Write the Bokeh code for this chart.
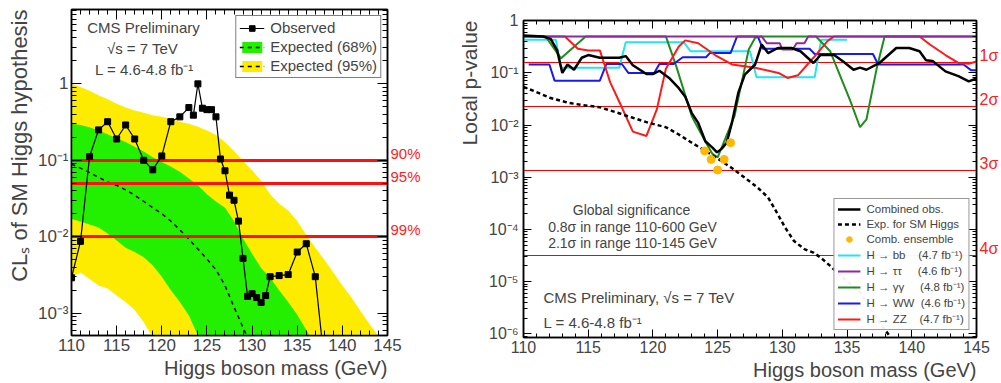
from bokeh.plotting import figure
from bokeh.layouts import row, column
from bokeh.models import (Range1d, FixedTicker, LinearAxis, LogAxis, Label, Legend, Title, Spacer,
                          LegendItem, Whisker, TeeHead, ColumnDataSource, CustomJSTickFormatter)
from bokeh.embed import file_html
from bokeh.resources import INLINE

FONT = "Liberation Sans"

# ---------------- Left panel data (CLs) ----------------
mass = list(range(110, 146))
exp95_hi = [1.0, 0.91, 0.81, 0.71, 0.63, 0.55, 0.49, 0.45, 0.42, 0.39, 0.37, 0.35, 0.32, 0.30,
            0.275, 0.245, 0.214, 0.174, 0.132, 0.098, 0.074, 0.054, 0.036, 0.027, 0.022, 0.016,
            0.0105, 0.0072, 0.0050, 0.0034, 0.0023, 0.0016, 0.00107, 0.00072, 0.0005, 0.00035]
exp68_hi = [0.30, 0.29, 0.27, 0.245, 0.22, 0.195, 0.174, 0.15, 0.13, 0.11, 0.095, 0.083, 0.071,
            0.058, 0.047, 0.036, 0.029, 0.024, 0.016, 0.0095, 0.006, 0.0039, 0.0029, 0.002,
            0.0014, 0.00095, 0.0006, 0.00038, 0.00025, 0.00016, 0.0001, 0.0001, 0.0001, 0.0001,
            0.0001, 0.0001]
exp68_lo = [0.017, 0.0158, 0.0145, 0.0132, 0.011, 0.0089, 0.0072, 0.0063, 0.0054, 0.0042, 0.003,
            0.002, 0.0014, 0.00093, 0.00051, 0.00032, 0.0002] + [0.0001] * 19
exp95_lo = [0.003, 0.0034, 0.0028, 0.0023, 0.0021, 0.0017, 0.0014, 0.0011, 0.00076, 0.00048,
            0.00032, 0.0002] + [0.0001] * 24
med_mass = list(range(110, 131))
exp_median = [0.089, 0.079, 0.069, 0.060, 0.052, 0.047, 0.041, 0.035, 0.029, 0.024, 0.020, 0.016,
              0.0123, 0.0093, 0.0069, 0.0051, 0.0037, 0.0023, 0.0012, 0.00065, 0.00035]
obs_mass = [110, 111, 112, 113, 114, 115, 116, 117, 118, 119, 120, 121, 122, 123, 123.5, 124,
            124.5, 125, 125.5, 126, 126.5, 127, 127.5, 128, 128.5, 129, 129.5, 130, 130.5, 131,
            131.5, 132, 133, 134, 135, 136, 137, 138]
obs_cls = [0.0029, 0.0087, 0.112, 0.25, 0.32, 0.19, 0.29, 0.19, 0.10, 0.075, 0.114, 0.32, 0.37,
           0.49, 0.39, 1.0, 0.48, 0.46, 0.46, 0.37, 0.104, 0.073, 0.035, 0.030, 0.016, 0.0052,
           0.00166, 0.0018, 0.0016, 0.00138, 0.0017, 0.0030, 0.0031, 0.0032, 0.0063, 0.0081,
           0.0030, 0.00023]
err_mass = [129.5, 130, 130.5, 131, 131.5, 132, 133, 134, 135, 136, 137]
err_lo = [0.00107, 0.0012, 0.00087, 0.00102, 0.00138, 0.0027, 0.0028, 0.0028, 0.0058, 0.0076, 0.00245]
err_hi = [0.00224, 0.00224, 0.0023, 0.0017, 0.0021, 0.0035, 0.0035, 0.0035, 0.0068, 0.0087, 0.0036]
cl_levels = [0.1, 0.05, 0.01]
cl_labels = ["90%", "95%", "99%"]

# ---------------- Right panel data (local p-value) ----------------
comb_mass = [110, 111.5, 112.1, 112.6, 113.0, 113.4, 113.9, 114.5, 115.0, 115.9, 116.7, 117.4,
             117.9, 118.45, 119.5, 120.0, 120.5, 121.25, 122.0, 122.5, 123.0, 123.5, 124.05,
             124.6, 124.95, 125.3, 125.7, 126.1, 126.6, 127.1, 127.9, 128.4, 128.9, 129.65,
             130.7, 131.4, 132.4, 132.95, 134.0, 134.7, 135.5, 136.0, 136.5, 137.5, 138.8,
             139.8, 140.6, 141.1, 141.6, 142.6, 143.6, 144.4, 145]
comb_p = [0.52, 0.5, 0.45, 0.27, 0.10, 0.145, 0.115, 0.195, 0.22, 0.195, 0.195, 0.195, 0.21,
          0.14, 0.095, 0.095, 0.11, 0.08, 0.051, 0.035, 0.017, 0.011, 0.0049, 0.0037, 0.0030,
          0.0035, 0.0046, 0.011, 0.042, 0.093, 0.145, 0.35, 0.24, 0.30, 0.30, 0.26, 0.155, 0.22,
          0.22, 0.165, 0.115, 0.126, 0.115, 0.155, 0.30, 0.30, 0.26, 0.175, 0.17, 0.107, 0.087,
          0.069, 0.078]
exp_mass = [110, 110.8, 112.1, 113.4, 114.6, 115.9, 117.2, 118.45, 119.7, 121.0, 122.0, 123.0,
            124.05, 125.1, 126.1, 127.1, 128.1, 128.9, 129.65, 130.2, 130.9, 131.7, 132.4,
            132.95, 133.7, 134.5, 136.0, 137.0, 138.3]
exp_p = [0.054, 0.045, 0.033, 0.027, 0.024, 0.022, 0.0174, 0.0138, 0.011, 0.0091, 0.0066,
         0.0046, 0.0032, 0.0022, 0.0015, 0.00098, 0.00063, 0.00041, 0.000195, 0.00011, 6.0e-5,
         4.2e-5, 3.6e-5, 2.9e-5, 2.0e-5, 1.3e-5, 6.3e-6, 2.5e-6, 9e-7]
ens_mass = [124, 124.5, 125, 125.5, 126]
ens_p = [0.0032, 0.0022, 0.00138, 0.0022, 0.0046]
bb_mass = [110, 112.5, 112.9, 117.4, 117.9, 122.4, 122.9, 127.5, 128.0, 132.5, 133.0, 135.0]
bb_p = [0.43, 0.43, 0.125, 0.125, 0.385, 0.385, 0.26, 0.26, 0.083, 0.083, 0.43, 0.43]
tt_mass = [110, 128.4, 128.8, 129.8, 130.0, 130.8, 131.1, 131.7, 132.0, 145]
tt_p = [0.5, 0.5, 0.37, 0.37, 0.28, 0.28, 0.37, 0.37, 0.5, 0.5]
gg_mass = [110, 111.7, 112.9, 114.8, 121.0, 121.8, 123.0, 124.1, 124.6, 125.0, 126.3, 126.85,
           127.4, 127.9, 128.3, 132.6, 133.7, 135.25, 136.0, 136.5, 137.3, 137.9, 145]
gg_p = [0.5, 0.5, 0.19, 0.5, 0.5, 0.135, 0.0148, 0.0046, 0.0028, 0.0024, 0.0148, 0.065, 0.28,
        0.47, 0.5, 0.5, 0.26, 0.029, 0.0091, 0.0129, 0.126, 0.5, 0.5]
ww_mass = [110.4, 112.0, 112.4, 115.9, 116.4, 117.6, 118.1, 120.1, 120.5, 121.6, 122.3, 124.1,
           124.4, 126.0, 126.5, 128.1, 128.5, 132.1, 132.5, 137.0, 137.4, 144.0, 144.6, 145.0]
ww_p = [0.145, 0.145, 0.071, 0.071, 0.148, 0.148, 0.10, 0.10, 0.148, 0.148, 0.20, 0.20, 0.24,
        0.24, 0.5, 0.5, 0.29, 0.29, 0.23, 0.23, 0.145, 0.145, 0.112, 0.112]
zz_mass = [110, 113.2, 114.2, 115.0, 115.9, 116.7, 117.4, 118.45, 119.5, 120.3, 121.0, 122.0,
           122.5, 123.5, 124.8, 126.1, 127.9, 129.7, 130.4, 131.2, 132.4, 133.5, 134.0, 140.6,
           141.4, 142.6, 143.6, 144.4, 145]
zz_p = [0.5, 0.5, 0.29, 0.27, 0.27, 0.066, 0.028, 0.0075, 0.0062, 0.02, 0.12, 0.32, 0.42, 0.37,
        0.22, 0.145, 0.126, 0.10, 0.08, 0.09, 0.195, 0.41, 0.5, 0.5, 0.35, 0.22, 0.155, 0.15,
        0.165]
sig_p = [0.1587, 0.02275, 0.00135, 3.17e-5]
sig_labels = ["1σ", "2σ", "3σ", "4σ"]

x_major = [110, 115, 120, 125, 130, 135, 140, 145]
x_minor = list(range(110, 146))
SUP = {"-": "⁻", "0": "⁰", "1": "¹", "2": "²", "3": "³", "4": "⁴", "5": "⁵", "6": "⁶"}


def log_ticks(emin, emax):
    major = [10.0 ** e for e in range(emin, emax + 1)]
    minor = [k * 10.0 ** e for e in range(emin - 1, emax + 1) for k in range(2, 10)]
    labels = {}
    for e, v in zip(range(emin, emax + 1), major):
        labels[v] = "1" if e == 0 else "10" + "".join(SUP[c] for c in str(e))
    return major, minor, labels


def style_axis(ax, size, mj, mn, show=True, standoff=4):
    ax.major_tick_in = mj
    ax.major_tick_out = 0
    ax.minor_tick_in = mn
    ax.minor_tick_out = 0
    ax.axis_line_width = 1.5
    ax.major_tick_line_width = 1
    ax.minor_tick_line_width = 1
    ax.major_label_text_font = FONT
    ax.major_label_text_line_height = 1.0
    if show:
        ax.major_label_text_font_size = size
        ax.major_label_standoff = standoff
    else:
        ax.formatter = CustomJSTickFormatter(code="return ''")
        ax.major_label_text_font_size = "1px"
        ax.major_label_standoff = 0


def add_title(p, text, size, side, standoff):
    p.add_layout(Title(text=text, align="right", text_font=FONT, text_font_size=size,
                       text_font_style="normal", text_line_height=1.0, standoff=standoff,
                       offset=0), side)


def label_axis(p, values, texts, size, shift):
    ticks = [v * shift for v in values]
    ax = LogAxis(ticker=FixedTicker(ticks=ticks, minor_ticks=[]))
    ax.major_label_overrides = dict(zip(ticks, texts))
    ax.axis_line_color = None
    ax.major_tick_line_color = None
    ax.minor_tick_line_color = None
    ax.major_tick_in = 0
    ax.major_tick_out = 0
    ax.minor_tick_in = 0
    ax.minor_tick_out = 0
    ax.major_label_text_color = "#ff2020"
    ax.major_label_text_font = FONT
    ax.major_label_text_font_size = size
    ax.major_label_standoff = 3
    p.add_layout(ax, "right")


def add_text(p, x0, y0, fx, fy, text, size, align="center"):
    p.add_layout(Label(x=x0, y=y0, x_offset=fx, y_offset=-fy, text=text, text_font=FONT,
                       text_font_size=size, text_align=align, text_baseline="middle"))


def make_frame(p, ymaj, ymin, ylab, size, mj, mn, ystandoff):
    p.xgrid.visible = False
    p.ygrid.visible = False
    p.outline_line_color = "black"
    p.outline_line_width = 1.5
    bx = p.below[0]
    ly = p.left[0]
    bx.ticker = FixedTicker(ticks=x_major, minor_ticks=x_minor)
    ly.ticker = FixedTicker(ticks=ymaj, minor_ticks=ymin)
    ly.major_label_overrides = ylab
    style_axis(bx, size, mj, mn, standoff=3)
    style_axis(ly, size, mj, mn, standoff=ystandoff)
    top = LinearAxis(ticker=FixedTicker(ticks=x_major, minor_ticks=x_minor))
    style_axis(top, size, mj, mn, show=False)
    p.add_layout(top, "above")
    right = LogAxis(ticker=FixedTicker(ticks=ymaj, minor_ticks=ymin))
    style_axis(right, size, mj, mn, show=False)
    p.add_layout(right, "right")


TOTAL_W, TOTAL_H = 1001, 383
W1 = 437
# ================= Left figure =================
Y1 = (5.1e-4, 9.4)
p1 = figure(x_range=Range1d(110, 145), y_range=Range1d(*Y1), y_axis_type="log",
            width=W1, height=TOTAL_H, min_border_left=71, min_border_right=W1 - 71 - 316,
            min_border_top=9, min_border_bottom=TOTAL_H - 9 - 326, output_backend="svg",
            toolbar_location=None)
maj, mnr, labs = log_ticks(-3, 0)
make_frame(p1, maj, mnr, labs, "17px", 10, 5, 3)
add_title(p1, "Higgs boson mass (GeV)", "20px", "below", 2)
add_title(p1, "CLₛ of SM Higgs hypothesis", "22px", "left", 6)
label_axis(p1, cl_levels, cl_labels, "15px", 1.238)

yel = p1.varea(x=mass, y1=exp95_lo, y2=exp95_hi, fill_color="#fdec00")
grn = p1.varea(x=mass, y1=exp68_lo, y2=exp68_hi, fill_color="#22f000")
med = p1.line(med_mass, exp_median, line_color="black", line_width=1.5, line_dash="4 4")
p1.hspan(y=cl_levels, line_color="#ff1010", line_width=3)
p1.add_layout(Whisker(source=ColumnDataSource(dict(base=err_mass, lower=err_lo, upper=err_hi)),
                      base="base", lower="lower", upper="upper", line_color="black",
                      line_width=1, upper_head=TeeHead(size=5, line_width=1),
                      lower_head=TeeHead(size=5, line_width=1)))
ol = p1.line(obs_mass, obs_cls, line_color="black", line_width=1.2)
op = p1.scatter(obs_mass, obs_cls, marker="square", size=6, color="black")

leg1 = Legend(items=[LegendItem(label="Observed", renderers=[ol, op]),
                     LegendItem(label="Expected (68%)", renderers=[grn, med]),
                     LegendItem(label="Expected (95%)", renderers=[yel, med])],
              location="top_right", margin=6, padding=3, spacing=2, label_height=17,
              glyph_height=14, glyph_width=25, label_standoff=6,
              label_text_font=FONT, label_text_font_size="15px",
              border_line_color="black", border_line_width=1.5)
p1.add_layout(leg1)

X0, YT = 110, Y1[1]
add_text(p1, X0, YT, 72, 18, "CMS Preliminary", "15px")
add_text(p1, X0, YT, 71, 39, "√s = 7 TeV", "15px")
add_text(p1, X0, YT, 73, 60, "L = 4.6-4.8 fb⁻¹", "15px")

# ================= Right figure =================
TOP2 = 11
L2 = 523 - W1
W2 = TOTAL_W - W1
H2 = TOTAL_H - TOP2
Y2 = (8.5e-7, 1.01)
p2 = figure(x_range=Range1d(110, 145), y_range=Range1d(*Y2), y_axis_type="log",
            width=W2, height=H2, min_border_left=L2, min_border_right=21,
            min_border_top=9, min_border_bottom=H2 - 9 - 317, output_backend="svg",
            toolbar_location=None)
maj2, mnr2, labs2 = log_ticks(-6, 0)
make_frame(p2, maj2, mnr2, labs2, "16px", 8, 4, 5)
add_title(p2, "Higgs boson mass (GeV)", "20px", "below", 2)
add_title(p2, "Local p-value", "21px", "left", 9)
label_axis(p2, sig_p, sig_labels, "16px", 1.37)

p2.hspan(y=sig_p, line_color="red", line_width=1.2)
r_bb = p2.line(bb_mass, bb_p, line_color="#22e4f4", line_width=2)
r_gg = p2.line(gg_mass, gg_p, line_color="#1e8c1e", line_width=2)
r_ww = p2.line(ww_mass, ww_p, line_color="#1a1aee", line_width=2)
r_zz = p2.line(zz_mass, zz_p, line_color="#ff1a1a", line_width=2)
r_tt = p2.line(tt_mass, tt_p, line_color="#8e2a9c", line_width=2)
r_comb = p2.line(comb_mass, comb_p, line_color="black", line_width=2.5)
r_exp = p2.line(exp_mass, exp_p, line_color="black", line_width=2.5, line_dash="4 3")
r_ens = p2.scatter(ens_mass, ens_p, marker="circle", size=8, color="#ffb800")

NB = "\u00a0"
leg2 = Legend(items=[LegendItem(label="Combined obs.", renderers=[r_comb]),
                     LegendItem(label="Exp. for SM Higgs", renderers=[r_exp]),
                     LegendItem(label="Comb. ensemble", renderers=[r_ens]),
                     LegendItem(label="H → bb" + NB * 4 + "(4.7 fb⁻¹)", renderers=[r_bb]),
                     LegendItem(label="H → ττ" + NB * 5 + "(4.6 fb⁻¹)", renderers=[r_tt]),
                     LegendItem(label="H → γγ" + NB * 5 + "(4.8 fb⁻¹)", renderers=[r_gg]),
                     LegendItem(label="H → WW" + NB * 2 + "(4.6 fb⁻¹)", renderers=[r_ww]),
                     LegendItem(label="H → ZZ" + NB * 4 + "(4.7 fb⁻¹)", renderers=[r_zz])],
              location="bottom_right", margin=7, padding=3, spacing=1, label_height=14,
              glyph_height=14, glyph_width=23, label_standoff=6,
              label_text_font=FONT, label_text_font_size="11.5px",
              label_text_line_height=1.0,
              border_line_color="#333333", border_line_width=1)
p2.add_layout(leg2)

X0, YT = 110, Y2[1]
add_text(p2, X0, YT, 108, 189, "Global significance", "14px")
add_text(p2, X0, YT, 109, 206, "0.8σ in range 110-600 GeV", "14px")
add_text(p2, X0, YT, 109, 222, "2.1σ in range 110-145 GeV", "14px")
add_text(p2, X0, YT, 20, 277, "CMS Preliminary, √s = 7 TeV", "15px", align="left")
add_text(p2, X0, YT, 20, 302, "L = 4.6-4.8 fb⁻¹", "15px", align="left")

layout = row(p1, column(Spacer(width=W2, height=TOP2), p2))
open("out.html", "w").write(file_html(layout, INLINE))
